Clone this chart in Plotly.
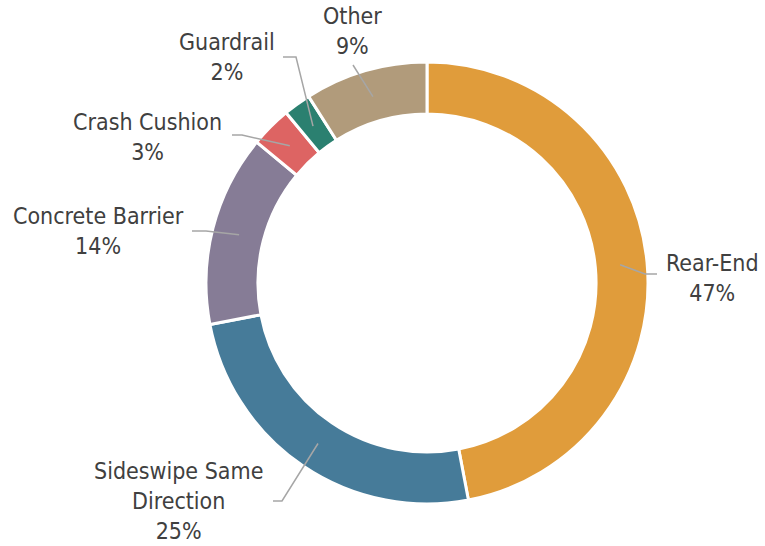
import numpy as np
import plotly.graph_objects as go

labels = ["Rear-End", "Sideswipe Same Direction", "Concrete Barrier", "Crash Cushion", "Guardrail", "Other"]
text_labels = ["Rear-End", "Sideswipe Same<br>Direction", "Concrete Barrier", "Crash Cushion", "Guardrail", "Other"]
values = [47, 25, 14, 3, 2, 9]
colors = ["#E09C3B", "#467B99", "#867C96", "#DD6463", "#2B8070", "#B19B7B"]

# layout for the outside labels (pixel space of a 765x546 canvas)
W, H = 765, 546
cx, cy, R = 427, 283, 221
anchor_r = 194
label_pos = [(712, 278), (178, 501), (98, 231), (147, 137), (227, 57), (352, 31)]
elbows = [
    [(657, 274), (645, 274)],
    [(273, 501), (282, 501)],
    [(192, 231), (206, 231)],
    [(232, 135), (242, 135)],
    [(283, 57), (296, 57)],
    [(353, 65)],
]

fig = go.Figure()
fig.add_trace(go.Pie(
    labels=labels, values=values, sort=False, direction="clockwise",
    hole=0.765, textinfo="none", hoverinfo="label+percent",
    marker=dict(colors=colors, line=dict(color="white", width=3)),
    domain=dict(x=[(cx - R) / W, (cx + R) / W], y=[(H - cy - R) / H, (H - cy + R) / H]),
    showlegend=False,
))

total = sum(values)
cum = np.cumsum([0] + values)
shapes = []
annotations = []
for i, lab in enumerate(text_labels):
    mid = (cum[i] + values[i] / 2) / total * 2 * np.pi
    ax_ = cx + anchor_r * np.sin(mid)
    ay_ = cy - anchor_r * np.cos(mid)
    pts = elbows[i] + [(ax_, ay_)]
    path = "M " + " L ".join(f"{x:.1f},{y:.1f}" for x, y in pts)
    shapes.append(dict(type="path", path=path, xref="x", yref="y",
                       line=dict(color="#A6A6A6", width=1.5)))
    pct = round(values[i] / total * 100)
    annotations.append(dict(x=label_pos[i][0], y=label_pos[i][1], xref="x", yref="y",
                            text=f"{lab}<br>{pct}%", showarrow=False,
                            font=dict(family="DejaVu Sans Condensed, DejaVu Sans", size=23, color="#404040")))

fig.update_layout(
    width=W, height=H,
    margin=dict(l=0, r=0, t=0, b=0),
    paper_bgcolor="white", plot_bgcolor="rgba(0,0,0,0)",
    xaxis=dict(range=[0, W], visible=False, fixedrange=True),
    yaxis=dict(range=[H, 0], visible=False, fixedrange=True),
    shapes=shapes, annotations=annotations,
)

fig.write_html("out.html", config={"displayModeBar": False},
               post_script="document.body.style.margin='0';document.body.style.overflow='hidden';")
